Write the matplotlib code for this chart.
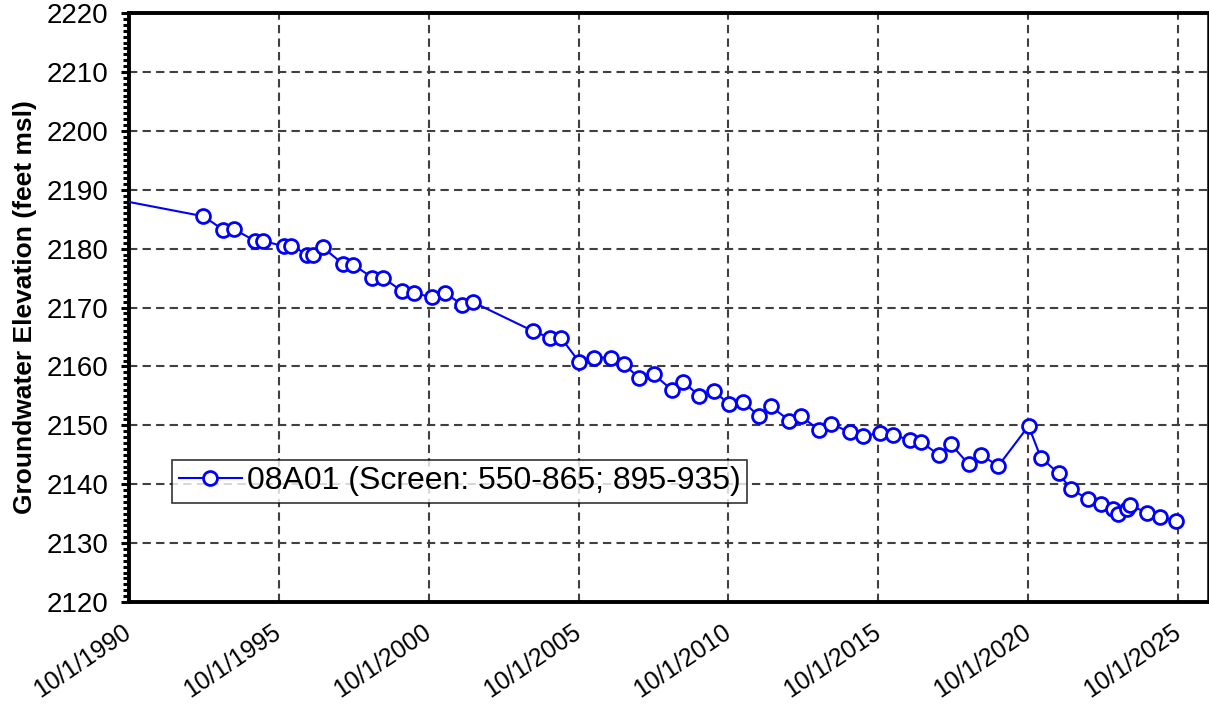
import datetime as dt
import matplotlib
matplotlib.use('Agg')
import matplotlib.pyplot as plt
from matplotlib.ticker import MultipleLocator

plt.rcParams['font.family'] = ['Liberation Sans', 'DejaVu Sans']

# Well 08A01 water levels (decimal year, feet msl)
years = [1989.75,
         1993.23, 1993.89, 1994.26, 1994.95, 1995.23, 1995.92, 1996.17, 1996.69,
         1996.89, 1997.21, 1997.89, 1998.21, 1998.87, 1999.21, 1999.84, 2000.26,
         2000.86, 2001.28, 2001.86, 2002.23,
         2004.23, 2004.81, 2005.17, 2005.76, 2006.26, 2006.82, 2007.25, 2007.78,
         2008.25, 2008.86, 2009.23, 2009.78, 2010.25, 2010.78, 2011.23, 2011.76,
         2012.17, 2012.78, 2013.17, 2013.78, 2014.17, 2014.80, 2015.23, 2015.82,
         2016.25, 2016.82, 2017.17, 2017.76, 2018.17, 2018.76, 2019.17, 2019.75,
         2020.76, 2021.17, 2021.76, 2022.17, 2022.73, 2023.17, 2023.59, 2023.76,
         2024.04, 2024.15, 2024.71, 2025.15, 2025.69]
elev = [2188.9,
        2185.5, 2183.2, 2183.3, 2181.3, 2181.3, 2180.4, 2180.5, 2179.0,
        2179.0, 2180.2, 2177.4, 2177.3, 2175.1, 2175.1, 2172.85, 2172.4,
        2171.8, 2172.5, 2170.5, 2170.9,
        2166.0, 2164.8, 2164.8, 2160.8, 2161.5, 2161.5, 2160.4, 2158.0,
        2158.7, 2156.0, 2157.4, 2155.0, 2155.8, 2153.6, 2154.0, 2151.6,
        2153.2, 2150.8, 2151.5, 2149.2, 2150.3, 2148.8, 2148.2, 2148.7,
        2148.35, 2147.5, 2147.2, 2145.0, 2146.8, 2143.4, 2145.0, 2143.1,
        2149.9, 2144.5, 2141.85, 2139.2, 2137.5, 2136.6, 2135.8, 2134.9,
        2135.8, 2136.5, 2135.1, 2134.4, 2133.8]

tick_years = [1990, 1995, 2000, 2005, 2010, 2015, 2020, 2025]
label = '08A01 (Screen: 550-865; 895-935)'


def to_date(y):
    base = dt.datetime(int(y), 1, 1)
    return base + dt.timedelta(days=(y - int(y)) * 365.25)


dates = [to_date(y) for y in years]

fig = plt.figure(figsize=(12.09, 7.07), dpi=100)
ax = fig.add_axes([0.1067, 0.1485, 0.8925, 0.833])

ax.plot(dates, elev, color='#0000FF', lw=1.5, marker='o', markersize=10,
        markerfacecolor='white', markeredgecolor='#0000FF', markeredgewidth=2.0,
        label=label, zorder=3)

ax.set_xlim(dt.datetime(1990, 10, 1), dt.datetime(2026, 10, 1))
ax.set_ylim(2120, 2220)

ticks = [dt.datetime(y, 10, 1) for y in tick_years]
ax.set_xticks(ticks)
ax.set_xticklabels([f'10/1/{y}' for y in tick_years], rotation=34,
                   ha='right', va='center', rotation_mode='anchor',
                   fontsize=18)
ax.yaxis.set_major_locator(MultipleLocator(10))
ax.yaxis.set_minor_locator(MultipleLocator(1))
ax.tick_params(axis='y', which='major', direction='out', length=6, width=2.2,
               labelsize=20, pad=9)
ax.tick_params(axis='y', which='minor', direction='out', length=4, width=2.2)
ax.tick_params(axis='x', which='major', length=0, pad=20)

ax.grid(True, which='major', color='#404040', linestyle=(0, (4, 2.5)), lw=1.5)
ax.set_axisbelow(True)

for side in ['left', 'bottom', 'top']:
    ax.spines[side].set_linewidth(2.8)
ax.spines['right'].set_linewidth(1.8)

ax.set_ylabel('Groundwater Elevation (feet msl)', fontsize=19,
              fontweight='bold', labelpad=7)

leg = ax.legend(loc='upper left', bbox_to_anchor=(0.040, 0.241), fontsize=23,
                frameon=True, fancybox=False, edgecolor='black',
                handlelength=2.0, handletextpad=0.15, borderpad=0.2,
                borderaxespad=0)
leg.get_frame().set_linewidth(1.2)

fig.savefig('out.png', dpi=100)
